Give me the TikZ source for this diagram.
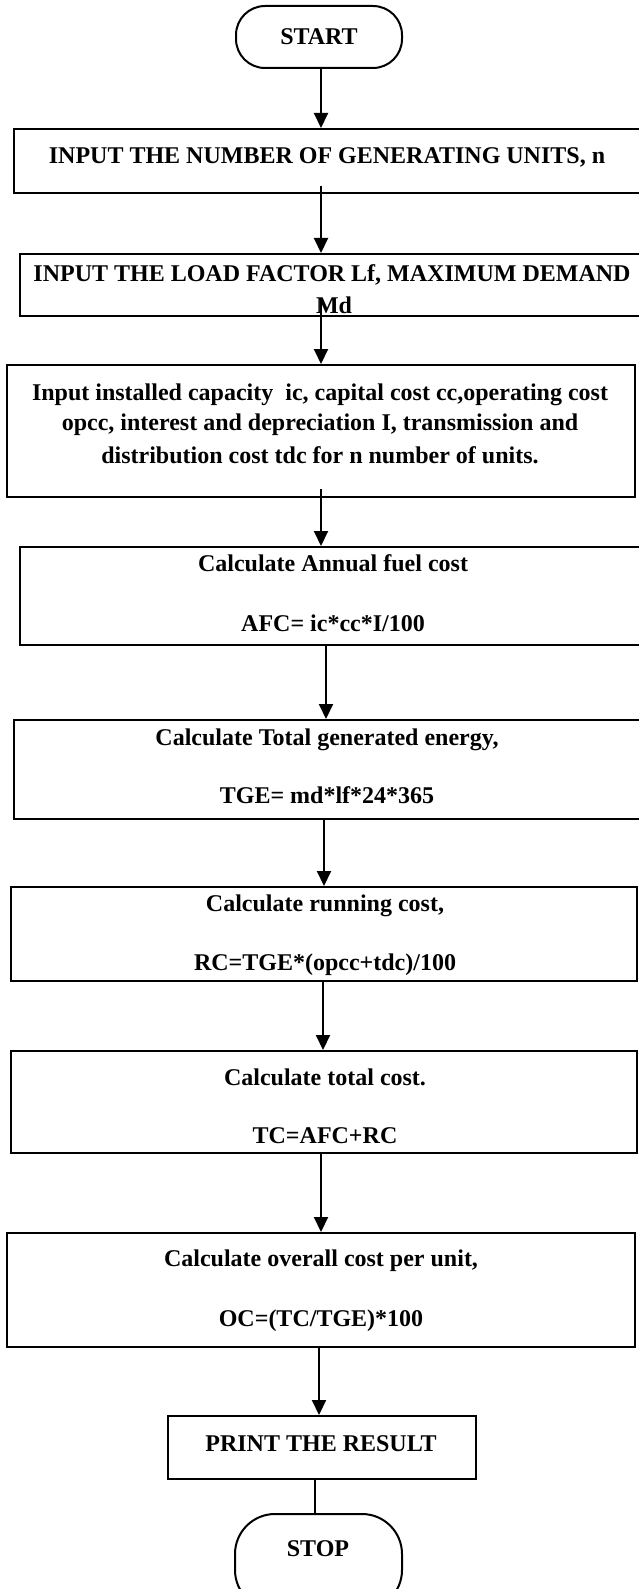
\documentclass[tikz,border=0pt]{standalone}
\usepackage{fontspec}
\setmainfont{Liberation Serif}
\usetikzlibrary{arrows.meta,calc}
\begin{document}
\begin{tikzpicture}[x=1pt,y=-1pt,
  box/.style={draw, line width=2pt, inner sep=0pt},
  term/.style={draw, line width=2pt, inner sep=0pt},
  txt/.style={font=\bfseries\fontsize{24}{28}\selectfont, inner sep=0pt, anchor=base},
  arr/.style={line width=2pt, -{Triangle[length=15pt,width=14pt]}},
  ln/.style={line width=2pt}]
\useasboundingbox (0,0) rectangle (638,1589);
% shapes
\node[term, rounded corners=29pt, minimum width=166pt, minimum height=62pt] (start) at (319,37) {};
\node[box, minimum width=627pt, minimum height=64pt] (b1) at (327,161) {};
\node[box, minimum width=625pt, minimum height=62pt] (b2) at (332,285) {};
\node[box, minimum width=628pt, minimum height=132pt] (b3) at (321,431) {};
\node[box, minimum width=627pt, minimum height=98pt] (b4) at (333,596) {};
\node[box, minimum width=627pt, minimum height=99pt] (b5) at (327,769.5) {};
\node[box, minimum width=626pt, minimum height=94pt] (b6) at (324,934) {};
\node[box, minimum width=626pt, minimum height=102pt] (b7) at (324,1102) {};
\node[box, minimum width=628pt, minimum height=114pt] (b8) at (321,1290) {};
\node[box, minimum width=308pt, minimum height=63pt] (pr) at (322,1447.5) {};
\node[term, rounded corners=40pt, minimum width=167pt, minimum height=96pt] (stop) at (318.5,1562) {};
% texts
\node[txt] (tstart) at (319,45) {START};
\node[txt] (t1) at (327,164) {INPUT THE NUMBER OF GENERATING UNITS, n};
\node[txt] (t2a) at (332,281) {INPUT THE LOAD FACTOR Lf, MAXIMUM DEMAND};
\node[txt] (t2b) at (334,313) {Md};
\node[txt] (t3a) at (320,400) {Input installed capacity\ \ ic, capital cost cc,operating cost};
\node[txt] (t3b) at (320,430) {opcc, interest and depreciation I, transmission and};
\node[txt] (t3c) at (320,463) {distribution cost tdc for n number of units.};
\node[txt] (t4a) at (333,571) {Calculate Annual fuel cost};
\node[txt] (t4b) at (333,631) {AFC= ic*cc*I/100};
\node[txt] (t5a) at (327,745) {Calculate Total generated energy,};
\node[txt] (t5b) at (327,803) {TGE= md*lf*24*365};
\node[txt] (t6a) at (325,911) {Calculate running cost,};
\node[txt] (t6b) at (325,970) {RC=TGE*(opcc+tdc)/100};
\node[txt] (t7a) at (325,1085) {Calculate total cost.};
\node[txt] (t7b) at (325,1143) {TC=AFC+RC};
\node[txt] (t8a) at (321,1266) {Calculate overall cost per unit,};
\node[txt] (t8b) at (321,1326) {OC=(TC/TGE)*100};
\node[txt] (tpr) at (321,1451) {PRINT THE RESULT};
\node[txt] (tstop) at (318,1556) {STOP};
% connector x positions
\coordinate (x1) at (321,0);
\coordinate (x2) at (321,0);
\coordinate (x3) at (321,0);
\coordinate (x4) at (321,0);
\coordinate (x5) at (326,0);
\coordinate (x6) at (324,0);
\coordinate (x7) at (323,0);
\coordinate (x8) at (321,0);
\coordinate (x9) at (319,0);
\coordinate (x10) at (314.5,0);
% connectors
\draw[arr] (start.south -| x1) -- (b1.north -| x1);
\draw[arr] ($(b1.south -| x2)+(0,-8)$) -- (b2.north -| x2);
\draw[arr] ($(b2.south -| x3)+(0,-18)$) -- (b3.north -| x3);
\draw[arr] ($(b3.south -| x4)+(0,-9)$) -- (b4.north -| x4);
\draw[arr] (b4.south -| x5) -- (b5.north -| x5);
\draw[arr] (b5.south -| x6) -- (b6.north -| x6);
\draw[arr] (b6.south -| x7) -- (b7.north -| x7);
\draw[arr] (b7.south -| x8) -- (b8.north -| x8);
\draw[arr] (b8.south -| x9) -- (pr.north -| x9);
\draw[ln] (pr.south -| x10) -- (stop.north -| x10);
\end{tikzpicture}
\end{document}
